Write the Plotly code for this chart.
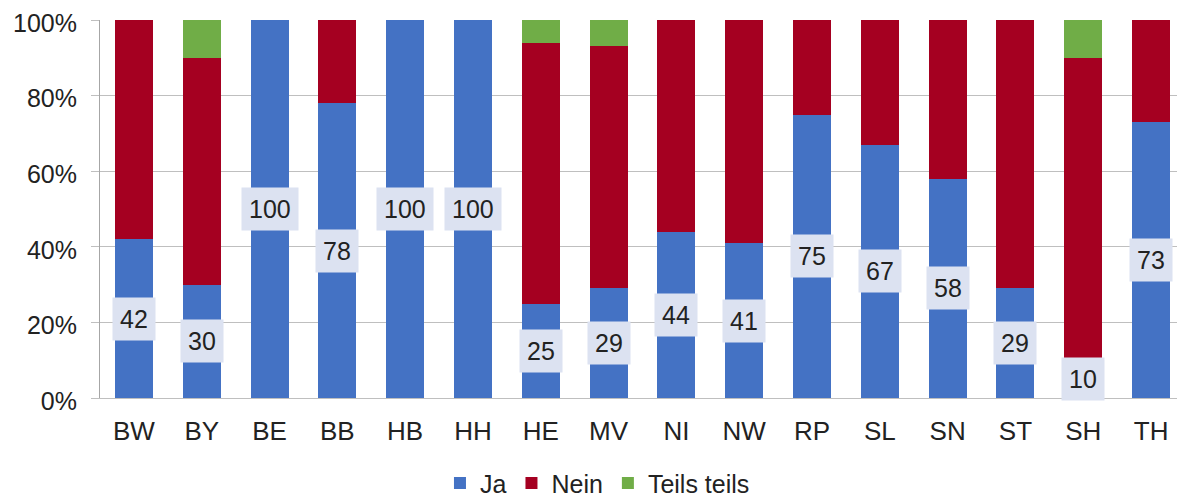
import plotly.graph_objects as go

categories = ["BW", "BY", "BE", "BB", "HB", "HH", "HE", "MV", "NI", "NW", "RP", "SL", "SN", "ST", "SH", "TH"]
ja = [42, 30, 100, 78, 100, 100, 25, 29, 44, 41, 75, 67, 58, 29, 10, 73]
nein = [58, 60, 0, 22, 0, 0, 69, 64, 56, 59, 25, 33, 42, 71, 80, 27]
teils = [0, 10, 0, 0, 0, 0, 6, 7, 0, 0, 0, 0, 0, 0, 10, 0]

FONT = "Liberation Sans, Arial, sans-serif"
fig = go.Figure()
fig.add_bar(x=categories, y=ja, name="Ja", marker=dict(color="#4472C4", line=dict(width=0)))
fig.add_bar(x=categories, y=nein, name="Nein", marker=dict(color="#A50021", line=dict(width=0)))
fig.add_bar(x=categories, y=teils, name="Teils teils", marker=dict(color="#70AD47", line=dict(width=0)))

for c, v in zip(categories, ja):
    fig.add_annotation(x=c, y=v / 2, text=str(v), showarrow=False, xref="x", yref="y",
                       bgcolor="#DCE2F1", borderpad=7,
                       font=dict(family=FONT, size=25, color="#222222"))

fig.update_layout(
    barmode="stack", bargap=0.44,
    width=1177, height=492,
    margin=dict(l=92, r=0, t=12, b=102, autoexpand=False),
    plot_bgcolor="white", paper_bgcolor="white",
    font=dict(family=FONT, size=26, color="#222222"),
    legend=dict(orientation="h", x=0.4585, xanchor="center", y=-0.165, yanchor="top",
                font=dict(size=25), traceorder="normal"),
    showlegend=True,
)
fig.update_yaxes(range=[0, 100], tickvals=[0, 20, 40, 60, 80, 100],
                 ticktext=["0%", "20%", "40%", "60%", "80%", "100%"],
                 tickfont=dict(size=25),
                 showgrid=True, gridcolor="#BFBFBF", gridwidth=1,
                 showline=True, linecolor="#A6A6A6", linewidth=1,
                 ticks="outside", ticklen=8, tickcolor="#BFBFBF", zeroline=False,
                 ticklabelstandoff=9, ticklabelshift=3, ticklabeloverflow="allow")
fig.update_xaxes(showline=True, linecolor="#BFBFBF", linewidth=1, ticks="",
                 ticklabelstandoff=10)
fig.write_html("out.html")
